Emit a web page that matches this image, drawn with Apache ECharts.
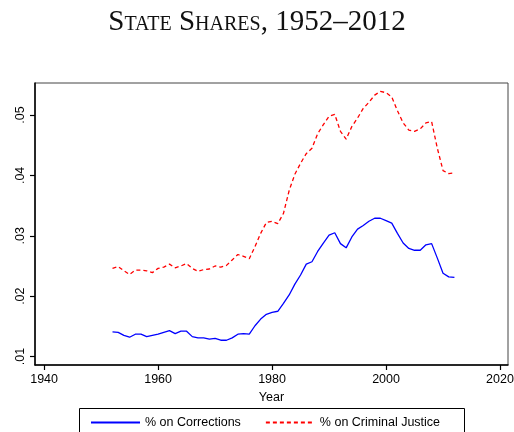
<!DOCTYPE html>
<html>
<head>
<meta charset="utf-8">
<script src="https://cdn.jsdelivr.net/npm/echarts@6/dist/echarts.min.js"></script>
<style>
  html, body { margin: 0; padding: 0; background: #fff; }
  #chart { width: 514px; height: 432px; }
</style>
</head>
<body>
<div id="chart"></div>
<script>
  // years on the x axis
  const years = [1952, 1953, 1954, 1955, 1956, 1957, 1958, 1959, 1960, 1961,
    1962, 1963, 1964, 1965, 1966, 1967, 1968, 1969, 1970, 1971,
    1972, 1973, 1974, 1975, 1976, 1977, 1978, 1979, 1980, 1981,
    1982, 1983, 1984, 1985, 1986, 1987, 1988, 1989, 1990, 1991,
    1992, 1993, 1994, 1995, 1996, 1997, 1998, 1999, 2000, 2001,
    2002, 2003, 2004, 2005, 2006, 2007, 2008, 2009, 2010, 2011, 2012];
  // % on Corrections
  const corrections = [.0141, .0140, .0135, .0132, .0137, .0137, .0133, .0135, .0137, .0140,
    .0143, .0138, .0142, .0142, .0133, .0131, .0131, .0129, .0130, .0127,
    .0127, .0131, .0137, .0138, .0137, .0151, .0162, .0170, .0173, .0175,
    .0188, .0202, .0220, .0235, .0253, .0257, .0274, .0288, .0301, .0305,
    .0287, .0280, .0298, .0311, .0317, .0324, .0329, .0329, .0325, .0321,
    .0304, .0288, .0279, .0276, .0276, .0285, .0287, .0263, .0238, .0232, .0231];
  // % on Criminal Justice
  const criminalJustice = [.0246, .0249, .0242, .0236, .0243, .0243, .0242, .0239, .0246, .0248,
    .0253, .0247, .0250, .0254, .0246, .0241, .0244, .0245, .0250, .0248,
    .0251, .0260, .0269, .0266, .0262, .0282, .0304, .0322, .0324, .0320,
    .0337, .0375, .0402, .0420, .0436, .0445, .0469, .0484, .0498, .0501,
    .0473, .0460, .0481, .0495, .0511, .0521, .0533, .0539, .0537, .0530,
    .0507, .0487, .0475, .0473, .0477, .0487, .0489, .0445, .0408, .0403, .0404];
  const xTicks = [1940, 1960, 1980, 2000, 2020];
  const yTicks = [0.01, 0.02, 0.03, 0.04, 0.05];

  const font = '"Liberation Sans", Arial, sans-serif';
  const chart = echarts.init(document.getElementById('chart'), null, {renderer: 'canvas'});

  chart.setOption({
    backgroundColor: '#fff',
    animation: false,
    title: {
      text: 'State Shares, 1952–2012',
      left: 'center',
      top: 3,
      textStyle: {
        fontFamily: '"Liberation Serif", "DejaVu Serif", serif',
        fontStyle: 'small-caps',
        fontWeight: 'normal',
        fontSize: 29,
        color: '#111'
      }
    },
    grid: {
      left: 35, right: 6, top: 83, bottom: 67,
      show: true, borderColor: '#444', borderWidth: 1,
      outerBoundsMode: 'none'
    },
    legend: {
      left: 85, top: 411,
      itemWidth: 49, itemHeight: 10, itemGap: 24,
      itemStyle: {opacity: 0},
      textStyle: {fontFamily: font, fontSize: 12.5, color: '#000'},
      data: ['% on Corrections', '% on Criminal Justice']
    },
    graphic: [{
      type: 'rect',
      shape: {x: 79.5, y: 408.5, width: 385, height: 40},
      style: {fill: 'none', stroke: '#000', lineWidth: 1}
    }],
    xAxis: {
      type: 'value',
      min: 1938.4, max: 2021.4,
      name: 'Year', nameLocation: 'middle', nameGap: 22,
      nameTextStyle: {fontFamily: font, fontSize: 12.5, color: '#000'},
      axisLine: {lineStyle: {color: '#000', width: 1.5}},
      axisTick: {customValues: xTicks, length: 5, lineStyle: {color: '#000', width: 1.2}},
      axisLabel: {
        customValues: xTicks, margin: 8, fontFamily: font, fontSize: 12.5, color: '#000',
        formatter: v => String(v)
      },
      splitLine: {show: false}
    },
    yAxis: {
      type: 'value',
      min: 0.0086, max: 0.0553,
      axisLine: {show: true, lineStyle: {color: '#000', width: 1.5}},
      axisTick: {show: true, customValues: yTicks, length: 5, lineStyle: {color: '#000', width: 1.2}},
      axisLabel: {
        customValues: yTicks, rotate: 90, margin: 8,
        fontFamily: font, fontSize: 12.5, color: '#000',
        formatter: v => v.toFixed(2).replace(/^0/, '')
      },
      splitLine: {show: false}
    },
    series: [{
      name: '% on Corrections',
      type: 'line',
      symbol: 'none',
      data: years.map((y, i) => [y, corrections[i]]),
      lineStyle: {color: '#0000ff', width: 1.3},
      itemStyle: {color: '#0000ff'}
    }, {
      name: '% on Criminal Justice',
      type: 'line',
      symbol: 'none',
      data: years.map((y, i) => [y, criminalJustice[i]]),
      lineStyle: {color: '#ff0000', width: 1.3, type: [4, 3]},
      itemStyle: {color: '#ff0000'}
    }]
  });
</script>
</body>
</html>
